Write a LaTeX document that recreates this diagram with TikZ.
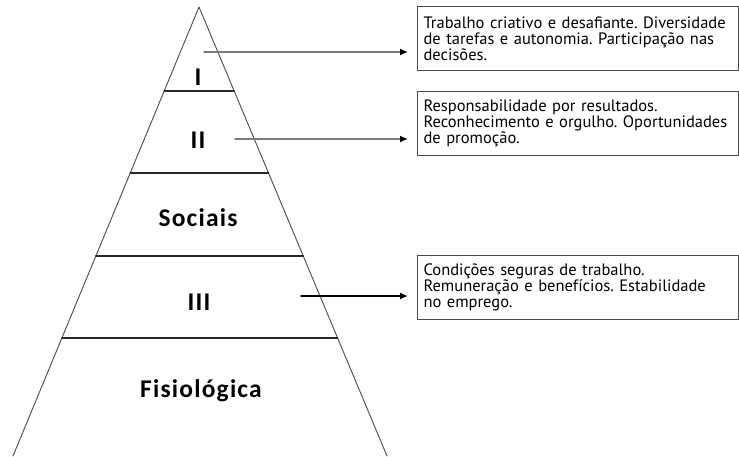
\documentclass[tikz,border=0pt]{standalone}
\usepackage{fontspec}
\setmainfont{PT Sans}
\newfontfamily\labelfont[LetterSpace=4.7]{Carlito}
\usetikzlibrary{arrows.meta}
\definecolor{edgegray}{HTML}{4A4A4A}
\definecolor{arrowgray}{HTML}{7A7A7A}
\tikzset{
  every picture/.style={line join=round, line cap=round, >=Latex},
  side/.style={line width=0.9pt, edgegray},
  layer/.style={line width=1.2pt, black!85},
  level/.style={font=\labelfont\bfseries\fontsize{25.5}{25.5}\selectfont, anchor=base},
  infobox/.style={draw=edgegray, line width=1.1pt, anchor=north west, minimum width=321pt, minimum height=64pt,
    text width=309pt, inner xsep=6pt, align=left, font=\frenchspacing\fontsize{16.5}{16}\selectfont},
  link/.style={-{Latex[length=8pt,width=7pt,black]}, line width=1.4pt, shorten >=9pt},
}

\begin{document}
\begin{tikzpicture}[x=1pt,y=-1pt]
\useasboundingbox (0,0) rectangle (739,456);
% pyramid
\draw[side] (13,456)--(199,7)--(387,456);
\draw[layer] (164.2,91)--(234.2,91);
\draw[layer] (130.2,173)--(268.5,173);
\draw[layer] (95.8,256)--(303.3,256);
\draw[layer] (61.9,338)--(337.6,338);
% levels
\node[level] (lvlI) at (198,85) {I};
\node[level] (lvlII) at (198,148) {II};
\node[level] (sociais) at (198,226) {Sociais};
\node[level] (lvlIII) at (199,310) {III};
\node[level] (fisio) at (201,397) {Fisiológica};
% boxes
\node[infobox] (boxI) at (417,6) {Trabalho criativo e desafiante. Diversidade\\de tarefas e autonomia. Participação nas\\decisões.};
\node[infobox] (boxII) at (417,91) {Responsabilidade por resultados.\\Reconhecimento e orgulho. Oportunidades\\de promoção.};
\node[infobox] (boxIII) at (417,255) {Condições seguras de trabalho.\\Remuneração e benefícios. Estabilidade\\no emprego.};
% arrows
\coordinate (startI) at (204,52);
\coordinate (startII) at (235,139);
\coordinate (startIII) at (301,296);
\draw[link,arrowgray] (startI) -- (startI -| boxI.west);
\draw[link,arrowgray] (startII) -- (startII -| boxII.west);
\draw[link,black] (startIII) -- (startIII -| boxIII.west);
\end{tikzpicture}
\end{document}
